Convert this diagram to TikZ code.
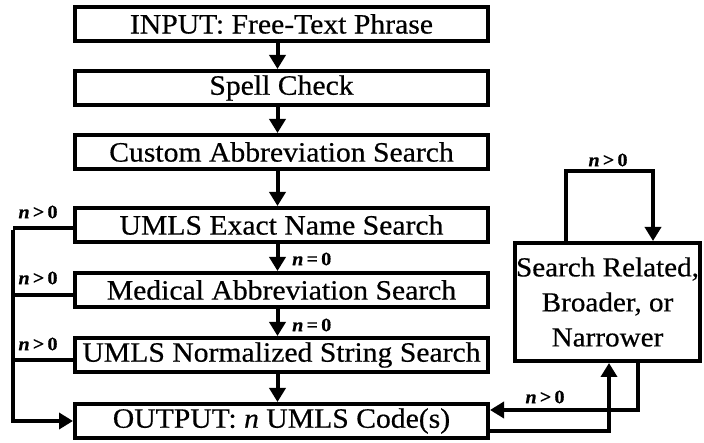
\documentclass[tikz,border=0pt]{standalone}
\usepackage{fontspec}
\setmainfont{Liberation Serif}[FakeStretch=1.06,FakeBold=0.5]
\usetikzlibrary{arrows.meta,calc}
\begin{document}
\begin{tikzpicture}[x=1pt,y=-1pt,
  box/.style={draw,line width=4pt,minimum width=413pt,minimum height=34pt,inner sep=0pt,
    font=\fontsize{28}{33}\selectfont},
  sidebox/.style={draw,line width=4pt,minimum width=185pt,minimum height=118pt,inner sep=0pt,
    align=center,font=\fontsize{27.5}{35}\selectfont},
  conn/.style={line width=4pt,-{Triangle[length=14pt,width=16pt]}},
  plain/.style={line width=4pt},
  lab/.style={font=\fontsize{19}{22}\selectfont\bfseries,inner sep=0pt}]
\useasboundingbox (0,0) rectangle (704,443);
\node[box] (in)   at (281.5,24)  {INPUT: Free-Text Phrase};
\node[box] (spell) at (281.5,88) {Spell Check};
\node[box] (cust) at (281.5,152) {Custom Abbreviation Search};
\node[box] (exact) at (281.5,225) {UMLS Exact Name Search};
\node[box] (med)  at (281.5,290) {Medical Abbreviation Search};
\node[box] (norm) at (281.5,355) {UMLS Normalized String Search};
\node[box] (out)  at (281.5,421) {OUTPUT: \textit{n} UMLS Code(s)};
\node[sidebox] (rel) at (607.5,302) {Search Related,\\Broader, or\\Narrower};

% vertical chain
\foreach \a/\b in {in/spell,spell/cust,cust/exact,exact/med,med/norm,norm/out}
  \draw[conn] ([xshift=-4pt]\a.south) -- ([xshift=-4pt]\b.north);

\node[lab,anchor=west] (l1) at (292,259) {\textit{n}\,=\,0};
\node[lab,anchor=west] (l2) at (292,325) {\textit{n}\,=\,0};

% left bus
\coordinate (b1) at (13,228);
\coordinate (b2) at (13,295);
\coordinate (b3) at (13,360);
\draw[plain] (exact.west |- b1) -- (b1);
\draw[plain] (med.west |- b2) -- (b2);
\draw[plain] (norm.west |- b3) -- (b3);
\draw[conn] ([yshift=-2pt]b1) |- ([yshift=0pt]out.west);

\node[lab] (g1) at (38,212) {\textit{n}\,>\,0};
\node[lab] (g2) at (38,278) {\textit{n}\,>\,0};
\node[lab] (g3) at (38,344) {\textit{n}\,>\,0};

% right side
\draw[conn] ([yshift=-10pt]out.east) -| ([xshift=1.5pt]rel.south);
\draw[conn] ([xshift=30.5pt]rel.south) |- ([yshift=11pt]out.east);
\node[lab] (g4) at (545,397) {\textit{n}\,>\,0};

% self loop
\coordinate (lp) at (566,171);
\draw[conn] ([xshift=-41.5pt]rel.north) -- (lp) -| ([xshift=45.5pt]rel.north);
\node[lab] (g5) at (608,160) {\textit{n}\,>\,0};
\end{tikzpicture}
\end{document}
